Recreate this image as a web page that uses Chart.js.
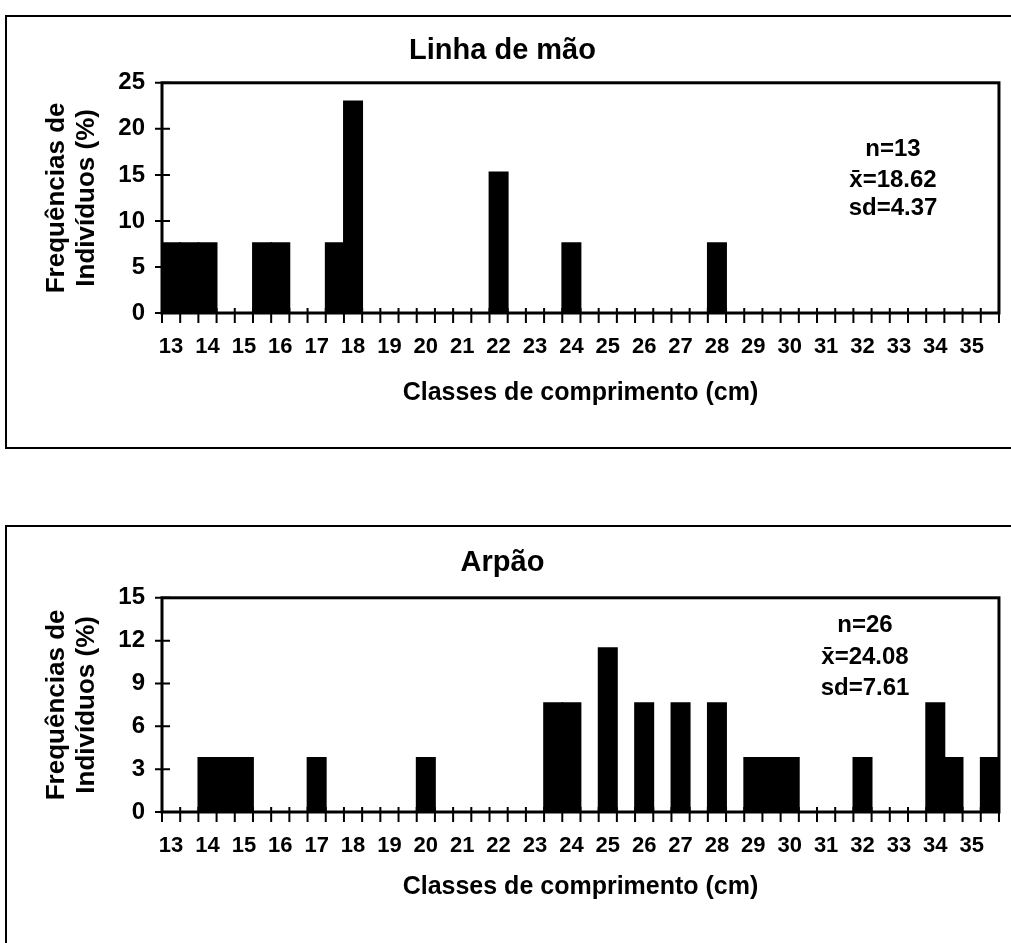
<!DOCTYPE html>
<html>
<head>
<meta charset="utf-8">
<script src="https://cdn.jsdelivr.net/npm/chart.js@4.4.0/dist/chart.umd.min.js"></script>
<style>
    body { margin: 0; background: #fff; width: 1011px; height: 943px; overflow: hidden; position: relative; }
    .frame { position: absolute; border: 2px solid #000; border-right: none; }
    canvas { position: absolute; }
</style>
</head>
<body>
<div class="frame" style="left:5px; top:15px; width:1020px; height:430px;"></div>
<div class="frame" style="left:5px; top:525px; width:1020px; height:440px; border-bottom:none;"></div>
<canvas id="linhaChart" width="1005" height="435" style="left:6px; top:16px;"></canvas>
<canvas id="arpaoChart" width="1005" height="417" style="left:6px; top:526px;"></canvas>
<script>
// Classes de comprimento (cm), 0.5 cm classes
var categories = ['13', '13.5', '14', '14.5', '15', '15.5', '16', '16.5', '17', '17.5',
    '18', '18.5', '19', '19.5', '20', '20.5', '21', '21.5', '22', '22.5',
    '23', '23.5', '24', '24.5', '25', '25.5', '26', '26.5', '27', '27.5',
    '28', '28.5', '29', '29.5', '30', '30.5', '31', '31.5', '32', '32.5',
    '33', '33.5', '34', '34.5', '35', '35.5'];

var tickLabels = ['13', '', '14', '', '15', '', '16', '', '17', '',
    '18', '', '19', '', '20', '', '21', '', '22', '',
    '23', '', '24', '', '25', '', '26', '', '27', '',
    '28', '', '29', '', '30', '', '31', '', '32', '',
    '33', '', '34', '', '35', ''];

// Linha de mão (%)
var linhaValues = [7.69, 7.69, 7.69, 0, 0, 7.69, 7.69, 0, 0, 7.69,
    23.08, 0, 0, 0, 0, 0, 0, 0, 15.38, 0,
    0, 0, 7.69, 0, 0, 0, 0, 0, 0, 0,
    7.69, 0, 0, 0, 0, 0, 0, 0, 0, 0,
    0, 0, 0, 0, 0, 0];

// Arpão (%)
var arpaoValues = [0, 0, 3.85, 3.85, 3.85, 0, 0, 0, 3.85, 0,
    0, 0, 0, 0, 3.85, 0, 0, 0, 0, 0,
    0, 7.69, 7.69, 0, 11.54, 0, 7.69, 0, 7.69, 0,
    7.69, 0, 3.85, 3.85, 3.85, 0, 0, 0, 3.85, 0,
    0, 0, 7.69, 3.85, 0, 3.85];

var linhaStats = ['n=13', 'x\u0304=18.62', 'sd=4.37'];
var arpaoStats = ['n=26', 'x\u0304=24.08', 'sd=7.61'];

var fontFamily = '"Liberation Sans", Arial, sans-serif';
Chart.defaults.font.family = fontFamily;
Chart.defaults.font.weight = 'bold';
Chart.defaults.color = '#000';

// frame round the plot, crossing tick marks and the stats text
var plotFrame = {
    id: 'plotFrame',
    afterDraw: function (chart, args, opts) {
        var ctx = chart.ctx, a = chart.chartArea;
        var x = chart.scales.x, y = chart.scales.y;
        ctx.save();
        ctx.strokeStyle = '#000';
        ctx.lineWidth = 3;
        ctx.strokeRect(a.left, a.top, a.right - a.left, a.bottom - a.top);
        ctx.lineWidth = 2;
        ctx.beginPath();
        var n = x.ticks.length;
        var half = (x.getPixelForValue(1) - x.getPixelForValue(0)) / 2;
        for (var i = 0; i <= n; i++) {
            var px = i < n ? x.getPixelForValue(i) - half : x.getPixelForValue(n - 1) + half;
            ctx.moveTo(px, a.bottom - 5);
            ctx.lineTo(px, a.bottom + 10);
        }
        y.ticks.forEach(function (t) {
            var py = y.getPixelForValue(t.value);
            ctx.moveTo(a.left - 7, py);
            ctx.lineTo(a.left + 8, py);
        });
        ctx.stroke();
        ctx.font = 'bold 24px ' + fontFamily;
        ctx.fillStyle = '#000';
        ctx.textAlign = 'center';
        ctx.textBaseline = 'middle';
        opts.lines.forEach(function (line, k) {
            ctx.fillText(line, opts.x, opts.y[k]);
        });
        ctx.restore();
    }
};

function makeChart(id, title, values, yMax, yStep, stats, lay) {
    var ctx = document.getElementById(id).getContext('2d');
    return new Chart(ctx, {
        type: 'bar',
        data: {
            labels: categories,
            datasets: [{
                data: values,
                backgroundColor: '#000',
                borderWidth: 0,
                barPercentage: 1.1,
                categoryPercentage: 1.0
            }]
        },
        options: {
            responsive: false,
            animation: false,
            layout: { padding: { top: 0, right: 12, left: 0, bottom: 0 } },
            plugins: {
                legend: { display: false },
                tooltip: { enabled: false },
                title: {
                    display: true,
                    text: title,
                    font: { size: 29, weight: 'bold' },
                    padding: { top: lay.titleTop, bottom: lay.titleBottom }
                },
                plotFrame: { lines: stats, x: lay.statsX, y: lay.statsY }
            },
            scales: {
                x: {
                    grid: { display: false, drawTicks: false },
                    border: { display: true, color: '#000', width: 2 },
                    ticks: {
                        autoSkip: false,
                        maxRotation: 0,
                        padding: 21,
                        font: { size: 22, weight: 'bold' },
                        callback: function (value, index) { return tickLabels[index]; }
                    },
                    title: {
                        display: true,
                        text: 'Classes de comprimento (cm)',
                        font: { size: 25, weight: 'bold' },
                        padding: { top: 0, bottom: lay.xTitleBottom }
                    },
                    afterFit: function (scale) { scale.height = lay.xHeight; }
                },
                y: {
                    min: 0,
                    max: yMax,
                    grid: { display: false, drawTicks: false },
                    border: { display: true, color: '#000', width: 2 },
                    ticks: {
                        stepSize: yStep,
                        padding: 17,
                        font: { size: 24, weight: 'bold' }
                    },
                    title: {
                        display: true,
                        text: ['Frequências de', 'Indivíduos (%)'],
                        font: { size: 26, weight: 'bold', lineHeight: 1.15 },
                        padding: { top: 36, bottom: 0 }
                    },
                    afterFit: function (scale) { scale.width = 156; }
                }
            }
        },
        plugins: [plotFrame]
    });
}

var linhaChart = makeChart('linhaChart', 'Linha de mão', linhaValues, 25, 5, linhaStats, {
    titleTop: 18, titleBottom: 14, xHeight: 138, xTitleBottom: 43,
    statsX: 887, statsY: [133, 164, 192]
});

var arpaoChart = makeChart('arpaoChart', 'Arpão', arpaoValues, 15, 3, arpaoStats, {
    titleTop: 20, titleBottom: 17, xHeight: 131, xTitleBottom: 41,
    statsX: 859, statsY: [99, 131, 162]
});
</script>
</body>
</html>
